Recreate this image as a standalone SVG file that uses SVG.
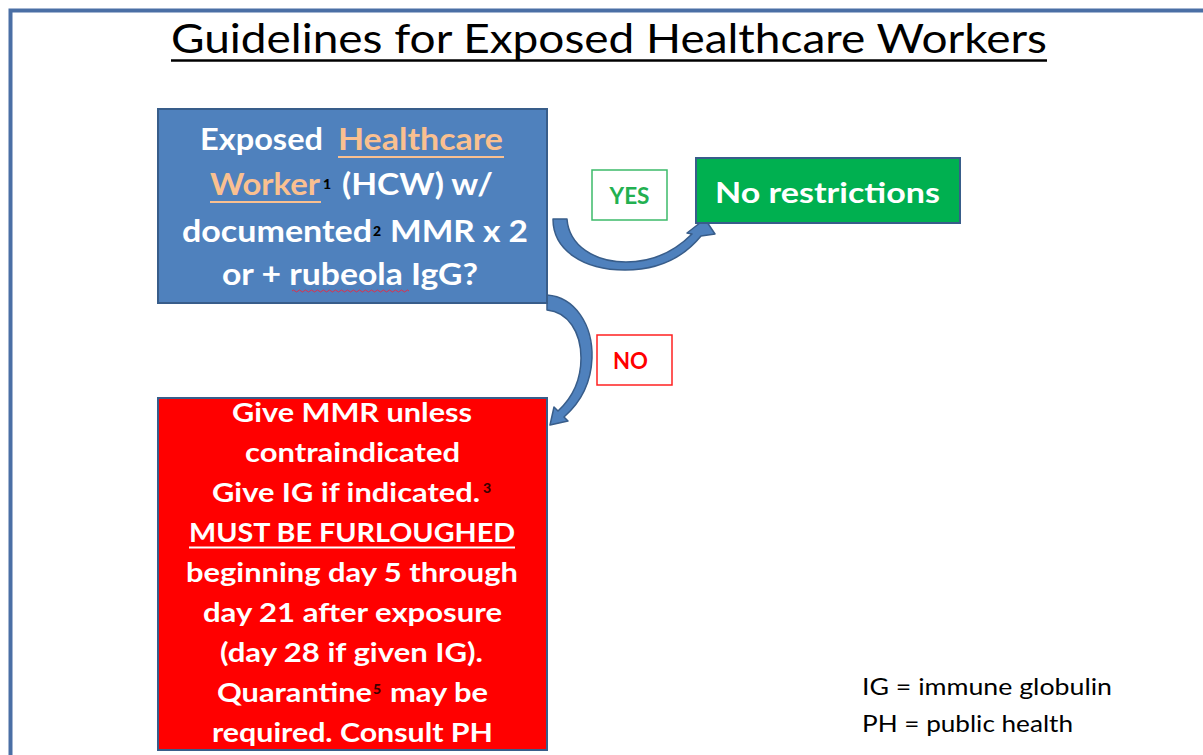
<svg xmlns="http://www.w3.org/2000/svg" width="1203" height="755" viewBox="0 0 1203 755">
<style>
.b{font-family:Lato,"Liberation Sans",sans-serif;font-weight:bold;fill:#fff}
.t30{font-size:30px}
.t26{font-size:26px}
.sup{font-family:Lato,"Liberation Sans",sans-serif;font-weight:900;font-size:14px;fill:#000}
.or{fill:#fac090}
.reg{font-family:Lato,"Liberation Sans",sans-serif;fill:#000}
.arrow{fill:#4f81bd;stroke:#385d8a;stroke-width:1.5;stroke-linejoin:round}
</style>
<rect x="0" y="0" width="1203" height="755" fill="#fff"/>
<rect x="10.5" y="10.5" width="1300" height="800" fill="none" stroke="#4a6fa5" stroke-width="4"/>
<g id="title">
<text class="reg" x="171" y="53" font-size="41" textLength="876" lengthAdjust="spacingAndGlyphs">Guidelines for Exposed Healthcare Workers</text>
<line x1="171" y1="60.5" x2="1047" y2="60.5" stroke="#000" stroke-width="2.5"/>
</g>
<g id="connectors">
<path class="arrow" d="M553,219 L567,219 C569,246 595,262 626,262 C655,262 676,250 692,234 L687,233 L705,219 L715,234 L701,236 C683,258 657,270 625,270 C583,270 553,250 553,219 Z"/>
<path class="arrow" d="M547,295 C575,297 593,325 592,358 C591,385 580,403 564,417 L568,421 L550,425 L554,407 L558,411 C571,399 581,383 581,358 C581,332 568,312 547,310 Z"/>
</g>
<g id="node-hcw">
<rect x="158" y="109" width="389" height="194" fill="#4f81bd" stroke="#385d8a" stroke-width="2"/>
<text class="b t30" x="200" y="150" textLength="123" lengthAdjust="spacingAndGlyphs">Exposed</text>
<text class="b t30 or" x="338" y="150" textLength="165" lengthAdjust="spacingAndGlyphs">Healthcare</text>
<line x1="338" y1="157" x2="504" y2="157" stroke="#fac090" stroke-width="2"/>
<text class="b t30 or" x="210" y="195" textLength="110" lengthAdjust="spacingAndGlyphs">Worker</text>
<line x1="210" y1="202" x2="321" y2="202" stroke="#fac090" stroke-width="2"/>
<text class="sup" x="323" y="189">1</text>
<text class="b t30" x="342" y="195" textLength="151" lengthAdjust="spacingAndGlyphs">(HCW) w/</text>
<text class="b t30" x="182" y="242" textLength="190" lengthAdjust="spacingAndGlyphs">documented</text>
<text class="sup" x="373" y="236">2</text>
<text class="b t30" x="390" y="242" textLength="138" lengthAdjust="spacingAndGlyphs">MMR x 2</text>
<text class="b t30" x="222" y="285" textLength="256" lengthAdjust="spacingAndGlyphs">or + rubeola IgG?</text>
<path d="M292,291 q1.5,-2 3,0 t3,0 t3,0 t3,0 t3,0 t3,0 t3,0 t3,0 t3,0 t3,0 t3,0 t3,0 t3,0 t3,0 t3,0 t3,0 t3,0 t3,0 t3,0 t3,0 t3,0 t3,0 t3,0 t3,0 t3,0 t3,0 t3,0 t3,0 t3,0 t3,0 t3,0 t3,0 t3,0 t3,0 t3,0 t3,0 t3,0 t3,0 t3,0" fill="none" stroke="#e0304a" stroke-width="1"/>
</g>
<g id="node-yes-label">
<rect x="592" y="170" width="75" height="50" fill="#fff" stroke="#3cba6a" stroke-width="1.5"/>
<text class="b" x="629.5" y="204" font-size="23" text-anchor="middle" style="fill:#22b050" textLength="40" lengthAdjust="spacingAndGlyphs">YES</text>
</g>
<g id="node-no-restrictions">
<rect x="696" y="158" width="264" height="65" fill="#00b050" stroke="#385d8a" stroke-width="2"/>
<text class="b" x="715" y="203" font-size="29" textLength="225" lengthAdjust="spacingAndGlyphs">No restrictions</text>
</g>
<g id="node-no-label">
<rect x="597" y="335" width="75" height="50" fill="#fff" stroke="#ff2020" stroke-width="1.5"/>
<text class="b" x="630.5" y="369" font-size="22" text-anchor="middle" style="fill:#ff0000" textLength="35" lengthAdjust="spacingAndGlyphs">NO</text>
</g>
<g id="node-furlough">
<rect x="158" y="398" width="389" height="352" fill="#ff0000" stroke="#385d8a" stroke-width="2"/>
<text class="b t26" x="232" y="422" textLength="240" lengthAdjust="spacingAndGlyphs">Give MMR unless</text>
<text class="b t26" x="245" y="462" textLength="215" lengthAdjust="spacingAndGlyphs">contraindicated</text>
<text class="b t26" x="212" y="502" textLength="268" lengthAdjust="spacingAndGlyphs">Give IG if indicated.</text>
<text class="sup" x="483" y="493" style="fill:#3a0000">3</text>
<text class="b t26" x="189" y="542" textLength="326" lengthAdjust="spacingAndGlyphs">MUST BE FURLOUGHED</text>
<line x1="189" y1="547.5" x2="515" y2="547.5" stroke="#fff" stroke-width="2"/>
<text class="b t26" x="186" y="582" textLength="332" lengthAdjust="spacingAndGlyphs">beginning day 5 through</text>
<text class="b t26" x="203" y="622" textLength="299" lengthAdjust="spacingAndGlyphs">day 21 after exposure</text>
<text class="b t26" x="220" y="662" textLength="263" lengthAdjust="spacingAndGlyphs">(day 28 if given IG).</text>
<text class="b t26" x="217" y="702" textLength="155" lengthAdjust="spacingAndGlyphs">Quarantine</text>
<text class="sup" x="373" y="694" style="fill:#3a0000">5</text>
<text class="b t26" x="390" y="702" textLength="98" lengthAdjust="spacingAndGlyphs">may be</text>
<text class="b t26" x="212" y="742" textLength="281" lengthAdjust="spacingAndGlyphs">required. Consult PH</text>
</g>
<g id="legend">
<text class="reg" x="862" y="695" font-size="23" fill="#222" textLength="250" lengthAdjust="spacingAndGlyphs">IG = immune globulin</text>
<text class="reg" x="862" y="732" font-size="23" fill="#222" textLength="211" lengthAdjust="spacingAndGlyphs">PH = public health</text>
</g>
</svg>
